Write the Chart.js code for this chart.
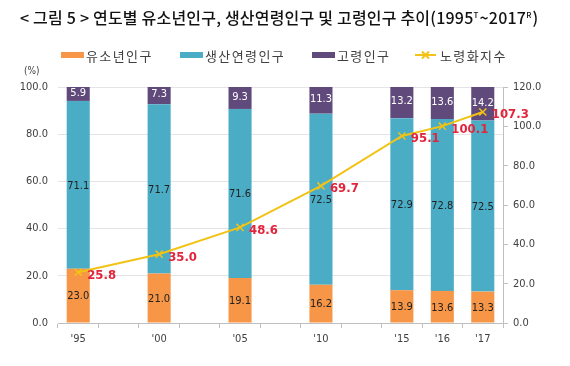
<!DOCTYPE html>
<html>
<head>
<meta charset="utf-8">
<script src="https://cdn.jsdelivr.net/npm/chart.js@4/dist/chart.umd.min.js"></script>
<style>
  html, body { margin: 0; padding: 0; background: #fff; }
  #wrap { width: 570px; height: 366px; position: relative; }
</style>
</head>
<body>
<div id="wrap"><canvas id="chart" width="570" height="366"></canvas></div>
<script>
// categories (empty slots keep the 5-year gaps wider than the yearly ones)
const years = ["'95", '', "'00", '', "'05", '', "'10", '', "'15", "'16", "'17"];

// population shares (%)
const youth   = [23.0, null, 21.0, null, 19.1, null, 16.2, null, 13.9, 13.6, 13.3];
const working = [71.1, null, 71.7, null, 71.6, null, 72.5, null, 72.9, 72.8, 72.5];
const elderly = [5.9,  null, 7.3,  null, 9.3,  null, 11.3, null, 13.2, 13.6, 14.2];

// aging index (right axis)
const agingIndex = [25.8, null, 35.0, null, 48.6, null, 69.7, null, 95.1, 100.1, 107.3];

const seriesNames = ['유소년인구', '생산연령인구', '고령인구', '노령화지수'];
const leftTicks = [0, 20, 40, 60, 80, 100];
const rightTicks = [0, 20, 40, 60, 80, 100, 120];

const ORANGE = '#F79646';
const TEAL = '#4BACC6';
const PURPLE = '#604A7B';
const YELLOW = '#F2C314';
const RED = '#E3243B';
const TXT = '#404040';
const NUMFONT = "'Liberation Sans Narrow', 'DejaVu Sans Condensed', Roboto, sans-serif";
const KRFONT = "'Noto Sans CJK KR', 'Noto Sans', sans-serif";

// value labels, title, legend
const decorations = {
    id: 'decorations',
    afterDatasetsDraw(chart) {
        const ctx = chart.ctx;
        ctx.save();
        ctx.textBaseline = 'middle';
        // bar labels
        [1, 2, 3].forEach(di => {
            const meta = chart.getDatasetMeta(di);
            const vals = chart.data.datasets[di].data;
            meta.data.forEach((el, i) => {
                if (vals[i] == null) return;
                const cy = (el.y + el.base) / 2;
                ctx.font = '11px ' + NUMFONT;
                ctx.fillStyle = di === 3 ? '#ffffff' : '#222222';
                ctx.textAlign = 'center';
                ctx.fillText(vals[i].toFixed(1), el.x, di === 3 ? cy - 1 : cy + 1);
            });
        });
        // line labels
        const lm = chart.getDatasetMeta(0);
        lm.data.forEach((pt, i) => {
            const v = agingIndex[i];
            if (v == null) return;
            ctx.font = 'bold 13px ' + NUMFONT;
            ctx.fillStyle = RED;
            ctx.textAlign = 'left';
            ctx.fillText(v.toFixed(1), pt.x + 9, pt.y + 3);
        });
        ctx.restore();
    },
    afterDraw(chart) {
        const ctx = chart.ctx;
        ctx.save();
        // title
        ctx.fillStyle = '#111';
        ctx.textBaseline = 'alphabetic';
        ctx.textAlign = 'left';
        ctx.letterSpacing = '0.2px';
        let x = 20;
        const parts = ['< 그림 5 > 연도별 유소년인구, 생산연령인구 및 고령인구 추이(1995', 'T', '~2017', 'R', ')'];
        parts.forEach((p, k) => {
            const sup = k === 1 || k === 3;
            ctx.font = (sup ? '500 8px ' : '500 16px ') + KRFONT;
            ctx.fillText(p, x, sup ? 18 : 24);
            x += ctx.measureText(p).width + (sup ? 1 : 0);
        });
        // legend
        const items = [
            { x: 61, color: ORANGE, type: 'box' },
            { x: 180, color: TEAL, type: 'box' },
            { x: 312, color: PURPLE, type: 'box' },
            { x: 415, color: YELLOW, type: 'line' }
        ];
        const ly = 55;
        ctx.font = '13px ' + KRFONT;
        ctx.letterSpacing = '1.4px';
        ctx.textBaseline = 'middle';
        items.forEach((it, k) => {
            if (it.type === 'box') {
                ctx.fillStyle = it.color;
                ctx.fillRect(it.x, ly - 3, 23, 6);
            } else {
                ctx.strokeStyle = it.color;
                ctx.lineWidth = 2;
                ctx.beginPath();
                ctx.moveTo(it.x, ly);
                ctx.lineTo(it.x + 21, ly);
                ctx.moveTo(it.x + 7, ly - 3.5);
                ctx.lineTo(it.x + 14, ly + 3.5);
                ctx.moveTo(it.x + 14, ly - 3.5);
                ctx.lineTo(it.x + 7, ly + 3.5);
                ctx.stroke();
            }
            ctx.fillStyle = TXT;
            ctx.fillText(seriesNames[k], it.x + 25, ly + 1);
        });
        ctx.letterSpacing = '0px';
        // unit
        ctx.font = '10px ' + NUMFONT;
        ctx.fillStyle = TXT;
        ctx.fillText('(%)', 24, 71);
        ctx.restore();
    }
};

new Chart(document.getElementById('chart'), {
    data: {
        labels: years,
        datasets: [
            {
                type: 'line',
                label: seriesNames[3],
                data: agingIndex,
                yAxisID: 'y2',
                borderColor: YELLOW,
                backgroundColor: YELLOW,
                borderWidth: 2,
                pointStyle: 'crossRot',
                pointRadius: 5,
                pointBorderWidth: 1.5,
                pointBorderColor: YELLOW,
                spanGaps: true,
                tension: 0,
                order: 0
            },
            { type: 'bar', label: seriesNames[0], data: youth, backgroundColor: ORANGE, yAxisID: 'y', order: 1 },
            { type: 'bar', label: seriesNames[1], data: working, backgroundColor: TEAL, yAxisID: 'y', order: 1 },
            { type: 'bar', label: seriesNames[2], data: elderly, backgroundColor: PURPLE, yAxisID: 'y', order: 1 }
        ]
    },
    options: {
        responsive: false,
        animation: false,
        layout: { padding: { top: 87, left: 0, right: 0, bottom: 0 } },
        datasets: { bar: { barPercentage: 0.57, categoryPercentage: 1 } },
        plugins: {
            legend: { display: false },
            title: { display: false },
            tooltip: { enabled: false }
        },
        scales: {
            x: {
                stacked: true,
                offset: true,
                afterFit: s => { s.height = 43; },
                grid: { offset: true, drawOnChartArea: false, drawTicks: true, tickLength: 5, color: '#bfbfbf' },
                border: { color: '#bfbfbf' },
                ticks: { color: TXT, font: { size: 11, family: NUMFONT }, padding: 5, autoSkip: false, maxRotation: 0 }
            },
            y: {
                stacked: true,
                position: 'left',
                min: 0,
                max: 100,
                afterFit: s => { s.width = 58; },
                afterBuildTicks: s => { s.ticks = leftTicks.map(v => ({ value: v })); },
                grid: { color: '#e4e4e4', drawTicks: false },
                border: { display: false },
                ticks: { color: TXT, font: { size: 11, family: NUMFONT }, padding: 10, callback: v => v.toFixed(1) }
            },
            y2: {
                position: 'right',
                min: 0,
                max: 120,
                afterFit: s => { s.width = 67; },
                afterBuildTicks: s => { s.ticks = rightTicks.map(v => ({ value: v })); },
                grid: { drawOnChartArea: false, drawTicks: true, tickLength: 5, color: '#bfbfbf' },
                border: { color: '#bfbfbf' },
                ticks: { color: TXT, font: { size: 11, family: NUMFONT }, padding: 5, callback: v => v.toFixed(1) }
            }
        }
    },
    plugins: [decorations]
});
</script>
</body>
</html>
